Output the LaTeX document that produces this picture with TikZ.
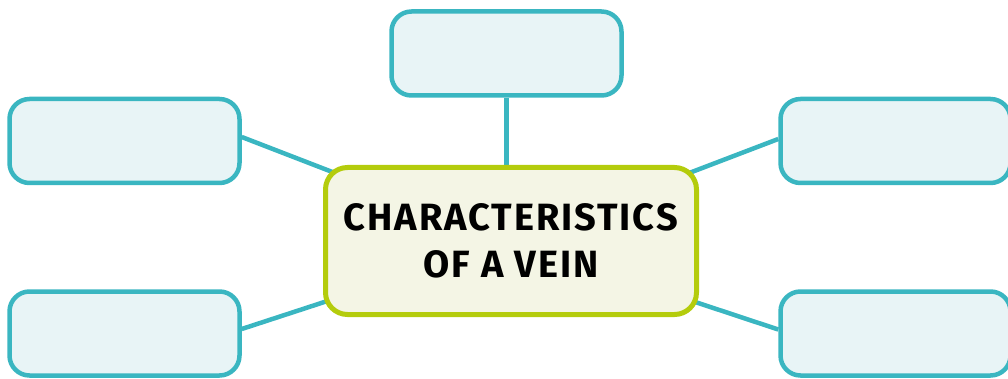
\documentclass[tikz,border=0pt]{standalone}
\usepackage{fontspec}
\setmainfont{Fira Sans}
\newfontfamily\hubfont[LetterSpace=5]{Fira Sans}
\definecolor{teal}{HTML}{3AB6C1}
\definecolor{tealfill}{HTML}{E8F4F6}
\definecolor{lime}{HTML}{B4CC0C}
\definecolor{limefill}{HTML}{F4F5E5}
\tikzset{
  leaf/.style={draw=teal, fill=tealfill, line width=4.5pt, rounded corners=20pt,
    minimum width=230pt, minimum height=84pt, inner sep=0pt},
  hub/.style={draw=lime, fill=limefill, line width=5pt, rounded corners=22pt,
    minimum width=371pt, minimum height=147pt, inner sep=0pt, align=center,
    font=\hubfont\bfseries\fontsize{38}{47}\selectfont},
  link/.style={draw=teal, line width=4.5pt}
}
\begin{document}
\begin{tikzpicture}[x=1pt, y=-1pt]
  \useasboundingbox (0,0) rectangle (1008,379);
  % outer boxes
  \node[leaf] (top) at (506.5,53.5) {};
  \node[leaf] (lt) at (124.5,141) {};
  \node[leaf] (lb) at (124.5,333.5) {};
  \node[leaf] (rt) at (895.5,141) {};
  \node[leaf] (rb) at (895.5,333.5) {};
  % connectors, drawn under the central box
  \coordinate (hubc) at (511,241);
  \draw[link] (top.south) -- (top.south |- hubc);
  \draw[link] ([yshift=4pt]lt.east) -- (hubc);
  \draw[link] ([yshift=4.5pt]lb.east) -- (hubc);
  \draw[link] ([yshift=2pt]rt.west) -- (hubc);
  \draw[link] ([yshift=4pt]rb.west) -- (hubc);
  % central box
  \node[hub] (hub) at (hubc) {CHARACTERISTICS\\OF A VEIN};
\end{tikzpicture}
\end{document}
